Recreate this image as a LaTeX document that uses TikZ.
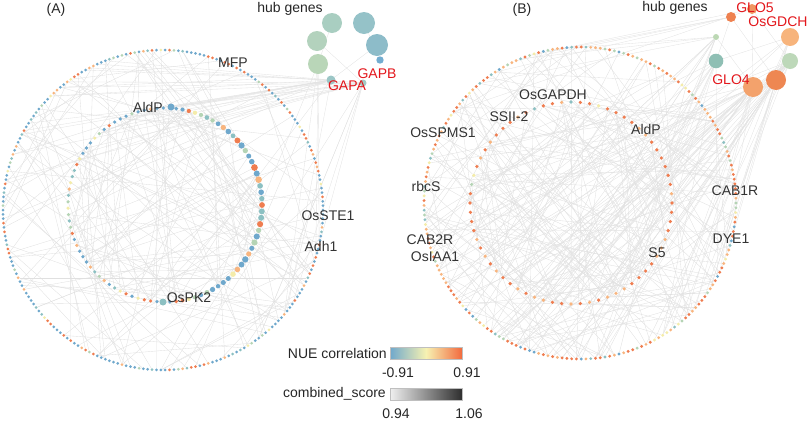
\documentclass[tikz,border=0pt]{standalone}
\usepackage{fontspec}
\setmainfont{Liberation Sans}
\pgfdeclarelayer{bg}
\pgfsetlayers{bg,main}
\definecolor{cb}{HTML}{6FA8CC}
\definecolor{ct}{HTML}{8CC0C2}
\definecolor{cg}{HTML}{B5D4B5}
\definecolor{cy}{HTML}{F4ECAA}
\definecolor{cl}{HTML}{F8B57F}
\definecolor{co}{HTML}{EF7D50}
\definecolor{labgray}{HTML}{333333}
\definecolor{hubred}{HTML}{E3161B}
\newcommand\palOA[1]{\ifcase#1 cb\or cb\or cb\or cb\or cb\or cb\or cb\or cb\or cb\or cb\or ct\or ct\or cg\or cy\or cl\or cl\or co\or co\or co\or co\fi}
\newcommand\palIA[1]{\ifcase#1 cb\or cb\or cb\or cb\or cb\or cb\or cb\or cb\or cb\or ct\or ct\or ct\or cg\or cg\or cy\or cl\or cl\or co\or co\or co\fi}
\newcommand\palOB[1]{\ifcase#1 cb\or ct\or ct\or cg\or cg\or cy\or cy\or cl\or cl\or cl\or cl\or cl\or cl\or co\or co\or co\or co\or co\or co\or co\fi}
\newcommand\palIB[1]{\ifcase#1 ct\or ct\or cg\or cy\or cl\or cl\or cl\or cl\or cl\or cl\or co\or co\or co\or co\or co\or co\or co\or co\or co\or co\fi}
\tikzset{
  dot/.style={circle, inner sep=0pt, draw=none},
  edge/.style={draw=black!12, line width=0.35pt},
  hubedge/.style={draw=black!11, line width=0.35pt},
  lbl/.style={font=\fontsize{14}{16}\selectfont, text=labgray, inner sep=0pt},
  hublbl/.style={font=\fontsize{14}{16}\selectfont, text=hubred, inner sep=0pt},
  ttl/.style={font=\fontsize{14}{16}\selectfont, text=black!85, inner sep=0pt},
}
\begin{document}
\begin{tikzpicture}[x=1pt,y=-1pt]
\useasboundingbox (0,0) rectangle (809,421);
\pgfmathsetseed{4242}
% ---------- panel A dots ----------
\foreach \i in {1,...,230}{
  \pgfmathsetmacro\a{360/230*\i}
  \pgfmathrandominteger{\rc}{0}{19}
  \edef\col{\palOA{\rc}}
  \node[dot, fill=\col, minimum size=3pt] (ao\i) at ([shift={(163,210)}]\a:160) {};
}
\foreach \i in {1,...,95}{
  \pgfmathsetmacro\a{360/95*\i}
  \pgfmathrandominteger{\rc}{0}{19}
  \edef\col{\palIA{\rc}}
  \pgfmathsetmacro\ds{3.6+3.4*max(cos(\a),0)*(0.45+0.55*rnd)}
  \node[dot, fill=\col, minimum size=\ds pt] (ai\i) at ([shift={(165,205)}]\a:97) {};
}
\node[dot, fill=cb, minimum size=7pt] (aldpA) at (171,107) {};
\node[dot, fill=ct, minimum size=7pt] (ospk) at (163,302) {};
% ---------- panel B dots ----------
\foreach \i in {1,...,205}{
  \pgfmathsetmacro\a{360/205*\i}
  \pgfmathrandominteger{\rc}{0}{19}
  \edef\col{\palOB{\rc}}
  \node[dot, fill=\col, minimum size=3.2pt] (bo\i) at ([shift={(580,203)}]\a:156) {};
}
\foreach \i in {1,...,68}{
  \pgfmathsetmacro\a{360/68*\i}
  \pgfmathrandominteger{\rc}{0}{19}
  \edef\col{\palIB{\rc}}
  \node[dot, fill=\col, minimum size=3.6pt] (bi\i) at ([shift={(571,203)}]\a:101) {};
}
% ---------- hub genes A ----------
\node[dot, fill={rgb,255:red,169;green,206;blue,193}, minimum size=20pt] (ha1) at (332,23) {};
\node[dot, fill={rgb,255:red,149;green,194;blue,200}, minimum size=22pt] (ha2) at (364,23) {};
\node[dot, fill={rgb,255:red,179;green,210;blue,189}, minimum size=20pt] (ha3) at (317,41) {};
\node[dot, fill={rgb,255:red,141;green,188;blue,201}, minimum size=22pt] (ha4) at (377,45) {};
\node[dot, fill={rgb,255:red,115;green,173;blue,208}, minimum size=7.4pt] (ha5) at (380,60) {};
\node[dot, fill={rgb,255:red,185;green,214;blue,184}, minimum size=20pt] (ha6) at (318,64) {};
\node[dot, fill={rgb,255:red,156;green,198;blue,198}, minimum size=9pt] (ha7) at (331,80) {};
\node[dot, fill={rgb,255:red,163;green,202;blue,196}, minimum size=7pt] (ha8) at (363,83) {};
% ---------- hub genes B ----------
\node[dot, fill={rgb,255:red,238;green,129;blue,80}, minimum size=10pt] (hb1) at (731,17) {};
\node[dot, fill={rgb,255:red,240;green,150;blue,97}, minimum size=10pt] (hb2) at (752,9) {};
\node[dot, fill={rgb,255:red,247;green,180;blue,124}, minimum size=18pt] (hb3) at (790,37) {};
\node[dot, fill={rgb,255:red,188;green,216;blue,180}, minimum size=6pt] (hb4) at (716,37) {};
\node[dot, fill={rgb,255:red,143;green,191;blue,180}, minimum size=14.6pt] (hb5) at (716,61) {};
\node[dot, fill={rgb,255:red,189;green,216;blue,185}, minimum size=16pt] (hb6) at (790,61) {};
\node[dot, fill={rgb,255:red,243;green,162;blue,108}, minimum size=20pt] (hb7) at (753,87) {};
\node[dot, fill={rgb,255:red,238;green,135;blue,82}, minimum size=20pt] (hb8) at (776,80) {};
% ---------- edges ----------
\begin{pgfonlayer}{bg}
% panel A
\foreach \k in {1,...,55}{
  \pgfmathrandominteger{\ea}{1}{230}
  \pgfmathrandominteger{\off}{30}{200}
  \pgfmathtruncatemacro\eb{mod(\ea+\off-1,230)+1}
  \draw[edge] (ao\ea) -- (ao\eb);
}
\foreach \k in {1,...,65}{
  \pgfmathrandominteger{\ea}{1}{230}
  \pgfmathrandominteger{\eb}{1}{95}
  \draw[edge] (ao\ea) -- (ai\eb);
}
\foreach \k in {1,...,55}{
  \pgfmathrandominteger{\ea}{1}{95}
  \pgfmathrandominteger{\off}{10}{85}
  \pgfmathtruncatemacro\eb{mod(\ea+\off-1,95)+1}
  \draw[edge] (ai\ea) -- (ai\eb);
}
\foreach \k in {1,...,14}{
  \pgfmathrandominteger{\ea}{118}{160}
  \pgfmathrandominteger{\h}{7}{8}
  \draw[hubedge] (ha\h) -- (ao\ea);
}
\foreach \k in {1,...,10}{
  \pgfmathrandominteger{\ea}{55}{80}
  \pgfmathrandominteger{\h}{7}{8}
  \draw[hubedge] (ha\h) -- (ai\ea);
}
\foreach \k in {1,...,10}{
  \pgfmathrandominteger{\ea}{1}{60}
  \pgfmathrandominteger{\h}{5}{8}
  \draw[hubedge] (ha\h) -- (ao\ea);
}
\draw[hubedge] (ha1) -- (ha6) (ha2) -- (ha5) (ha3) -- (ha8) (ha4) -- (ha7) (ha7) -- (aldpA) (ha8) -- (aldpA) (ha7) -- (ospk);
% panel B
\foreach \k in {1,...,70}{
  \pgfmathrandominteger{\ea}{1}{205}
  \pgfmathrandominteger{\off}{25}{180}
  \pgfmathtruncatemacro\eb{mod(\ea+\off-1,205)+1}
  \draw[edge] (bo\ea) -- (bo\eb);
}
\foreach \k in {1,...,85}{
  \pgfmathrandominteger{\ea}{1}{205}
  \pgfmathrandominteger{\eb}{1}{68}
  \draw[edge] (bo\ea) -- (bi\eb);
}
\foreach \k in {1,...,45}{
  \pgfmathrandominteger{\ea}{1}{68}
  \pgfmathrandominteger{\off}{8}{60}
  \pgfmathtruncatemacro\eb{mod(\ea+\off-1,68)+1}
  \draw[edge] (bi\ea) -- (bi\eb);
}
\foreach \k in {1,...,45}{
  \pgfmathrandominteger{\ea}{10}{95}
  \pgfmathrandominteger{\h}{3}{8}
  \draw[hubedge] (hb\h) -- (bo\ea);
}
\foreach \k in {1,...,30}{
  \pgfmathrandominteger{\ea}{1}{40}
  \pgfmathrandominteger{\h}{5}{8}
  \draw[hubedge] (hb\h) -- (bi\ea);
}
\foreach \k in {1,...,8}{
  \pgfmathrandominteger{\ea}{120}{150}
  \pgfmathrandominteger{\h}{1}{4}
  \draw[hubedge] (hb\h) -- (bo\ea);
}
\draw[hubedge] (hb1) -- (hb5) (hb2) -- (hb6) (hb3) -- (hb5) (hb4) -- (hb7) (hb1) -- (hb8) (hb2) -- (hb7) (hb6) -- (hb7);
\end{pgfonlayer}
% ---------- labels ----------
\node[ttl] (tA) at (56,10) {(A)};
\node[ttl] (tB) at (522,10) {(B)};
\node[ttl] (hgA) at (290,9) {hub genes};
\node[ttl] (hgB) at (675,8) {hub genes};
\node[lbl] (lMFP) at (233,63) {MFP};
\node[lbl] (lAldPA) at (148,107) {AldP};
\node[lbl] (lSTE) at (328,216) {OsSTE1};
\node[lbl] (lAdh) at (321,246) {Adh1};
\node[lbl] (lPK) at (189,298) {OsPK2};
\node[hublbl] (lGAPB) at (377,74) {GAPB};
\node[hublbl] (lGAPA) at (347,86) {GAPA};
\node[lbl] (lGAPDH) at (553,95) {OsGAPDH};
\node[lbl] (lSSII) at (509,117) {SSII-2};
\node[lbl] (lSPMS) at (443,133) {OsSPMS1};
\node[lbl] (lAldPB) at (646,129) {AldP};
\node[lbl] (lrbcS) at (426,186) {rbcS};
\node[lbl] (lCAB2) at (430,240) {CAB2R};
\node[lbl] (lIAA) at (435,257) {OsIAA1};
\node[lbl] (lCAB1) at (735,191) {CAB1R};
\node[lbl] (lDYE) at (731,239) {DYE1};
\node[lbl] (lS5) at (657,253) {S5};
\node[hublbl] (lGLO5) at (755,8) {GLO5};
\node[hublbl] (lGDCH) at (778,22) {OsGDCH};
\node[hublbl] (lGLO4) at (731,80) {GLO4};
% ---------- legend ----------
\node[ttl, anchor=east] (nue) at (387,353) {NUE correlation};
\shade[left color=cb, right color={rgb,255:red,242;green,106;blue,62}, middle color={rgb,255:red,247;green,242;blue,178}, draw=black!25, line width=0.3pt] (390,347) rectangle (462,359);
\node[ttl] (m1) at (398,373) {-0.91};
\node[ttl] (p1) at (467,373) {0.91};
\node[ttl, anchor=east] (cs) at (386,394) {combined\_score};
\shade[left color=black!6, right color=black!82, draw=black!25, line width=0.3pt] (390,388) rectangle (462,400);
\node[ttl] (s1) at (396,414) {0.94};
\node[ttl] (s2) at (469,414) {1.06};
\end{tikzpicture}
\end{document}
